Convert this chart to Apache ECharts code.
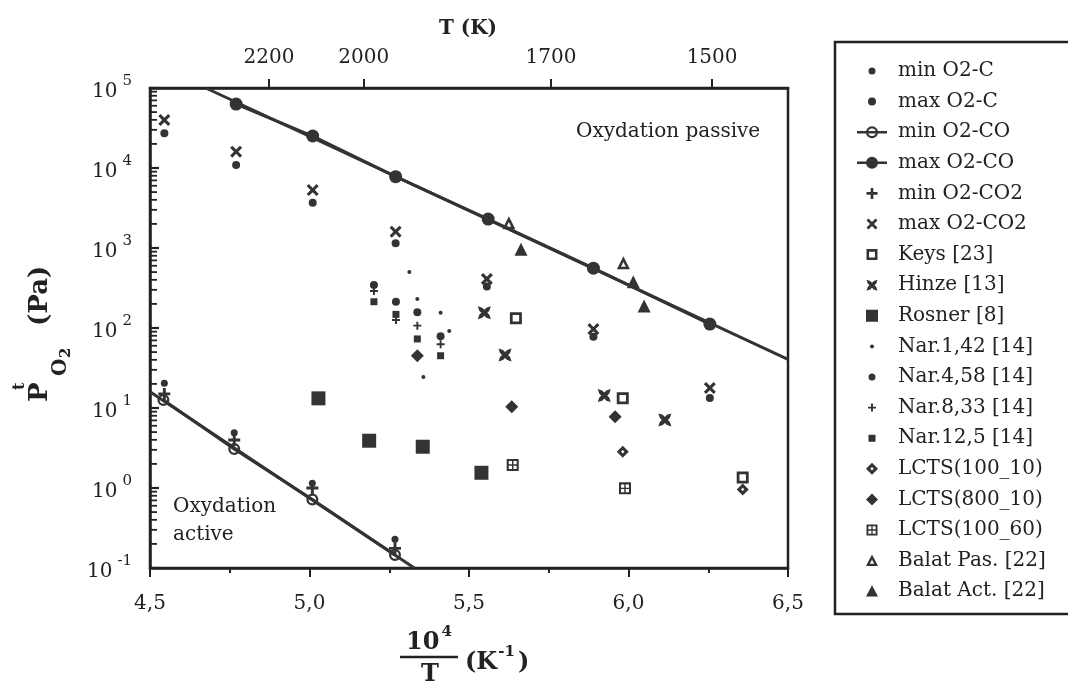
<!DOCTYPE html>
<html><head><meta charset="utf-8">
<script src="https://cdn.jsdelivr.net/npm/echarts@6/dist/echarts.min.js"></script>
<style>html,body{margin:0;padding:0;background:#fff}#c{width:1068px;height:686px}</style>
</head><body><div id="c"></div>
<script>
// ---------------- data ----------------
const minO2C_x = [4.545, 4.764, 5.009, 5.268];
const minO2C_y = [20.4, 4.9, 1.15, 0.229];
const maxO2C_x = [4.545, 4.77, 5.01, 5.27, 5.556, 5.89, 6.255];
const maxO2C_y = [27200, 10900, 3680, 1145, 330, 78, 13.3];
const minO2CO_x = [4.542, 4.764, 5.009, 5.268];
const minO2CO_y = [12.6, 3.07, 0.72, 0.145];
const maxO2CO_x = [4.77, 5.01, 5.27, 5.56, 5.89, 6.255];
const maxO2CO_y = [63000, 25100, 7800, 2300, 560, 112];
const minO2CO2_x = [4.545, 4.764, 5.009, 5.268];
const minO2CO2_y = [15, 3.98, 1.0, 0.176];
const maxO2CO2_x = [4.545, 4.77, 5.01, 5.27, 5.556, 5.89, 6.255];
const maxO2CO2_y = [39800, 16000, 5300, 1600, 410, 97, 17.8];
const keys_x = [5.647, 5.982, 6.358];
const keys_y = [132, 13.2, 1.35];
const hinze_x = [5.548, 5.613, 5.924, 6.114];
const hinze_y = [155, 46, 14.3, 7.1];
const rosner_x = [5.028, 5.187, 5.355, 5.539];
const rosner_y = [13.2, 3.9, 3.28, 1.55];
const nar142_x = [5.313, 5.338, 5.411, 5.438, 5.357];
const nar142_y = [501, 230, 155, 92, 24.4];
const nar458_x = [5.202, 5.271, 5.338, 5.411];
const nar458_y = [345, 213, 157, 79];
const nar833_x = [5.202, 5.271, 5.338, 5.411];
const nar833_y = [290, 126, 107, 62.5];
const nar125_x = [5.202, 5.271, 5.338, 5.411];
const nar125_y = [213, 148, 73, 45];
const lcts100_10_x = [5.982, 6.358];
const lcts100_10_y = [2.84, 0.96];
const lcts800_10_x = [5.338, 5.634, 5.958];
const lcts800_10_y = [45, 10.4, 7.8];
const lcts100_60_x = [5.637, 5.989];
const lcts100_60_y = [1.94, 0.99];
const balatPas_x = [5.625, 5.984];
const balatPas_y = [2070, 655];
const balatAct_x = [5.663, 6.015, 6.049];
const balatAct_y = [963, 379, 188];

const xTicksBottom = [4.5, 5.0, 5.5, 6.0, 6.5];
const topTickPos = [4.873, 5.170, 5.757, 6.262];
const topTickLabels = ['2200', '2000', '1700', '1500'];
const legendNames = ['min O2-C', 'max O2-C', 'min O2-CO', 'max O2-CO', 'min O2-CO2', 'max O2-CO2',
  'Keys [23]', 'Hinze [13]', 'Rosner [8]', 'Nar.1,42 [14]', 'Nar.4,58 [14]', 'Nar.8,33 [14]',
  'Nar.12,5 [14]', 'LCTS(100_10)', 'LCTS(800_10)', 'LCTS(100_60)', 'Balat Pas. [22]', 'Balat Act. [22]'];

// ---------------- styling helpers ----------------
const FONT = '"DejaVu Serif", serif';
const INK = '#222222';
const MARK = '#333333';
const zip = (xs, ys) => xs.map((x, i) => [x, ys[i]]);

function poly(pts, cx, cy, s) {
  return 'M' + pts.map(p => (cx + (p[0] - 5) * s / 10).toFixed(2) + ',' + (cy + (p[1] - 5) * s / 10).toFixed(2)).join(' L') + ' Z';
}
function circ(cx, cy, r, cw) {
  const sw = cw ? 1 : 0;
  return `M${(cx - r).toFixed(2)},${cy} A${r},${r} 0 1 ${sw} ${(cx + r).toFixed(2)},${cy} A${r},${r} 0 1 ${sw} ${(cx - r).toFixed(2)},${cy} Z`;
}
const SQ = [[0,0],[10,0],[10,10],[0,10]];
const SQ_HOLE = [[2.3,2.3],[2.3,7.7],[7.7,7.7],[7.7,2.3]];
const DIA = [[5,0],[10,5],[5,10],[0,5]];
const DIA_HOLE = [[5,3.6],[3.6,5],[5,6.4],[6.4,5]];
const TRI = [[5,0],[10,9.4],[0,9.4]];
const TRI_HOLE = [[5,4.2],[3.2,7.7],[6.8,7.7]];
const PLUS = [[3.8,0],[6.2,0],[6.2,3.8],[10,3.8],[10,6.2],[6.2,6.2],[6.2,10],[3.8,10],[3.8,6.2],[0,6.2],[0,3.8],[3.8,3.8]];
const XSH = [[0,1.8],[1.8,0],[5,3.2],[8.2,0],[10,1.8],[6.8,5],[10,8.2],[8.2,10],[5,6.8],[1.8,10],[0,8.2],[3.2,5]];
const BOW = [[0,0],[3.4,1.1],[5,2.7],[6.6,1.1],[10,0],[8.9,3.4],[7.3,5],[8.9,6.6],[10,10],[6.6,8.9],[5,7.3],[3.4,8.9],[0,10],[1.1,6.6],[2.7,5],[1.1,3.4]];
const GRID_HOLES = [[1.7,1.7],[5.6,1.7],[1.7,5.6],[5.6,5.6]].map(([a,b]) => [[a,b],[a,b+2.7],[a+2.7,b+2.7],[a+2.7,b]]);

const shapes = {
  dot: (cx, cy, s) => circ(cx, cy, s / 2, true),
  ring: (cx, cy, s) => circ(cx, cy, s / 2, true) + ' ' + circ(cx, cy, s * 0.31, false),
  square: (cx, cy, s) => poly(SQ, cx, cy, s),
  openSquare: (cx, cy, s) => poly(SQ, cx, cy, s) + ' ' + poly(SQ_HOLE, cx, cy, s),
  diamond: (cx, cy, s) => poly(DIA, cx, cy, s),
  holeDiamond: (cx, cy, s) => poly(DIA, cx, cy, s) + ' ' + poly(DIA_HOLE, cx, cy, s),
  gridSquare: (cx, cy, s) => poly(SQ, cx, cy, s) + ' ' + GRID_HOLES.map(h => poly(h, cx, cy, s)).join(' '),
  tri: (cx, cy, s) => poly(TRI, cx, cy, s),
  openTri: (cx, cy, s) => poly(TRI, cx, cy, s) + ' ' + poly(TRI_HOLE, cx, cy, s),
  plus: (cx, cy, s) => poly(PLUS, cx, cy, s),
  cross: (cx, cy, s) => poly(XSH, cx, cy, s),
  bow: (cx, cy, s) => poly(BOW, cx, cy, s)
};
const sym = k => 'path://' + shapes[k](5, 5, 10);
const PAD = 'M0,0 L0.02,0 L0,0.02 Z M30,20 L29.98,20 L30,19.98 Z';
const LINE_BAR = 'M0,8.8 L30,8.8 L30,11.2 L0,11.2 Z';
const licon = (k, s, withLine) => 'path://' + PAD + ' ' + (withLine ? LINE_BAR + ' ' : '') + shapes[k](15, 10, s);

// per-series mark definitions: [name, xs, ys, shape, plotSize, legendSize, isLine]
const defs = [
  [legendNames[0], minO2C_x, minO2C_y, 'dot', 7, 7, false],
  [legendNames[1], maxO2C_x, maxO2C_y, 'dot', 8, 8, false],
  [legendNames[2], minO2CO_x, minO2CO_y, 'ring', 12, 12, true],
  [legendNames[3], maxO2CO_x, maxO2CO_y, 'dot', 13, 12, true],
  [legendNames[4], minO2CO2_x, minO2CO2_y, 'plus', 12, 11, false],
  [legendNames[5], maxO2CO2_x, maxO2CO2_y, 'cross', 12, 11, false],
  [legendNames[6], keys_x, keys_y, 'openSquare', 12, 11, false],
  [legendNames[7], hinze_x, hinze_y, 'bow', 13, 11, false],
  [legendNames[8], rosner_x, rosner_y, 'square', 14, 12, false],
  [legendNames[9], nar142_x, nar142_y, 'dot', 4, 4, false],
  [legendNames[10], nar458_x, nar458_y, 'dot', 8, 7, false],
  [legendNames[11], nar833_x, nar833_y, 'plus', 8, 8, false],
  [legendNames[12], nar125_x, nar125_y, 'square', 7, 7, false],
  [legendNames[13], lcts100_10_x, lcts100_10_y, 'holeDiamond', 12, 12, false],
  [legendNames[14], lcts800_10_x, lcts800_10_y, 'diamond', 13, 12, false],
  [legendNames[15], lcts100_60_x, lcts100_60_y, 'gridSquare', 12, 11, false],
  [legendNames[16], balatPas_x, balatPas_y, 'openTri', 13, 12, false],
  [legendNames[17], balatAct_x, balatAct_y, 'tri', 13, 12, false]
];

// least squares fit in log space, clipped to the axis box
function fitLine(xs, ys) {
  const ly = ys.map(v => Math.log10(v));
  const n = xs.length;
  const mx = xs.reduce((a, b) => a + b, 0) / n, my = ly.reduce((a, b) => a + b, 0) / n;
  let sxy = 0, sxx = 0;
  xs.forEach((x, i) => { sxy += (x - mx) * (ly[i] - my); sxx += (x - mx) * (x - mx); });
  const m = sxy / sxx, b = my - m * mx;
  const xa = (5 - b) / m, xb = (-1 - b) / m;
  const x0 = Math.max(4.5, Math.min(xa, xb)), x1 = Math.min(6.5, Math.max(xa, xb));
  return [[x0, Math.pow(10, b + m * x0)], [x1, Math.pow(10, b + m * x1)]];
}

// minor tick positions of the log axis (2..9 x 10^k)
const yMinorTicks = [];
for (let e = -1; e < 5; e++) for (let k = 2; k < 10; k++) yMinorTicks.push(+(k * Math.pow(10, e)).toPrecision(3));

const series = [
  { type: 'line', name: 'fitMin', data: fitLine(minO2CO_x, minO2CO_y), symbol: 'none', z: 1,
    lineStyle: { color: MARK, width: 3 }, silent: true, clip: true },
  { type: 'line', name: 'fitMax', data: fitLine(maxO2CO_x, maxO2CO_y), symbol: 'none', z: 1,
    lineStyle: { color: MARK, width: 3 }, silent: true, clip: true }
];
defs.forEach(([name, xs, ys, shape, size, , isLine]) => {
  const s = {
    type: isLine ? 'line' : 'scatter', name, data: zip(xs, ys),
    symbol: sym(shape), symbolSize: size, z: isLine ? 2 : 3,
    itemStyle: { color: MARK, borderWidth: 0, opacity: 1 }
  };
  if (isLine) { s.lineStyle = { color: MARK, width: 3 }; s.showSymbol = true; }
  series.push(s);
});

const legendData = defs.map(([name, , , shape, , lsize, isLine]) => ({ name, icon: licon(shape, lsize, isLine) }));

const baseGraphics = [
  { type: 'rect', shape: { x: 835, y: 42, width: 300, height: 572 }, z: -1,
    style: { fill: 'none', stroke: INK, lineWidth: 2.5 } },
  { type: 'text', x: 468, y: 29, style: { text: 'T (K)', font: 'bold 20px ' + FONT, fill: INK, align: 'center', verticalAlign: 'middle' } },
  { type: 'text', x: 576, y: 132, style: { text: 'Oxydation passive', font: '20px ' + FONT, fill: INK, verticalAlign: 'middle' } },
  { type: 'text', x: 173, y: 507, style: { text: 'Oxydation', font: '20px ' + FONT, fill: INK, verticalAlign: 'middle' } },
  { type: 'text', x: 173, y: 535, style: { text: 'active', font: '20px ' + FONT, fill: INK, verticalAlign: 'middle' } },
  { type: 'group', x: 40, y: 402, rotation: Math.PI / 2, children: [
    { type: 'text', x: 0, y: 0, style: { text: 'P', font: 'bold 26px ' + FONT, fill: INK, align: 'left', verticalAlign: 'middle' } },
    { type: 'text', x: 12, y: -20, style: { text: 't', font: 'bold 16px ' + FONT, fill: INK, align: 'left', verticalAlign: 'middle' } },
    { type: 'text', x: 26, y: 21, style: { text: 'O', font: 'bold 20px ' + FONT, fill: INK, align: 'left', verticalAlign: 'middle' } },
    { type: 'text', x: 44, y: 26, style: { text: '2', font: 'bold 15px ' + FONT, fill: INK, align: 'left', verticalAlign: 'middle' } },
    { type: 'text', x: 76, y: 0, style: { text: '(Pa)', font: 'bold 26px ' + FONT, fill: INK, align: 'left', verticalAlign: 'middle' } }
  ] },
  { type: 'text', x: 429, y: 640, style: { text: '{b|10}{s|4}', align: 'center', verticalAlign: 'middle',
    rich: { b: { font: 'bold 24px ' + FONT, lineHeight: 30, verticalAlign: 'bottom', fill: INK },
            s: { font: 'bold 15px ' + FONT, lineHeight: 12, verticalAlign: 'top', fill: INK, padding: [0, 0, 0, 2] } } } },
  { type: 'line', shape: { x1: 400, y1: 657, x2: 458, y2: 657 }, style: { stroke: INK, lineWidth: 2.5 } },
  { type: 'text', x: 430, y: 675, style: { text: 'T', font: 'bold 24px ' + FONT, fill: INK, align: 'center', verticalAlign: 'middle' } },
  { type: 'text', x: 465, y: 660, style: { text: '{b|(K}{s|-1}{b|)}', align: 'left', verticalAlign: 'middle',
    rich: { b: { font: 'bold 24px ' + FONT, lineHeight: 30, verticalAlign: 'bottom', fill: INK },
            s: { font: 'bold 15px ' + FONT, lineHeight: 12, verticalAlign: 'top', fill: INK, padding: [0, 3, 0, 1] } } } }
];

const chart = echarts.init(document.getElementById('c'), null, { renderer: 'canvas' });
chart.setOption({
  animation: false,
  backgroundColor: '#fff',
  textStyle: { fontFamily: FONT, color: INK },
  grid: { left: 150, right: 280, top: 88, bottom: 118, show: true, borderColor: INK, borderWidth: 2.5, containLabel: false },
  legend: {
    orient: 'vertical', left: 852, top: 56, itemWidth: 30, itemHeight: 20, itemGap: 10.6,
    selectedMode: false, data: legendData, symbolKeepAspect: true,
    itemStyle: { borderWidth: 0, opacity: 1 },
    textStyle: { fontFamily: FONT, fontSize: 20, color: INK, padding: [0, 0, 0, 6] }
  },
  xAxis: [
    { type: 'value', position: 'bottom', min: 4.5, max: 6.5, interval: 0.5,
      axisLine: { show: true, onZero: false, lineStyle: { color: INK, width: 2.5 } },
      axisTick: { show: true, length: 9, lineStyle: { color: INK, width: 2 } },
      minorTick: { show: true, splitNumber: 2, length: 5, lineStyle: { color: INK, width: 2 } },
      splitLine: { show: false }, minorSplitLine: { show: false },
      axisLabel: { fontFamily: FONT, fontSize: 20, color: INK, margin: 26,
        formatter: v => xTicksBottom.includes(+v.toFixed(1)) ? v.toFixed(1).replace('.', ',') : '' } },
    { type: 'value', position: 'top', min: 4.5, max: 6.5,
      axisLine: { show: true, onZero: false, lineStyle: { color: INK, width: 2.5 } },
      axisTick: { show: true, length: 9, customValues: topTickPos, lineStyle: { color: INK, width: 2 } },
      splitLine: { show: false },
      axisLabel: { fontFamily: FONT, fontSize: 20, color: INK, margin: 20, customValues: topTickPos,
        formatter: v => {
          let best = 0;
          topTickPos.forEach((p, i) => { if (Math.abs(p - v) < Math.abs(topTickPos[best] - v)) best = i; });
          return topTickLabels[best];
        } } }
  ],
  yAxis: [
    { type: 'log', logBase: 10, min: 0.1, max: 100000, splitNumber: 6, position: 'left',
      axisLine: { show: true, onZero: false, lineStyle: { color: INK, width: 2.5 } },
      axisTick: { show: true, inside: true, length: 9, lineStyle: { color: INK, width: 2.2 } },
      splitLine: { show: false },
      axisLabel: { margin: 18, color: INK,
        formatter: v => '{b|10}{s|' + Math.round(Math.log10(v)) + '}',
        rich: {
          b: { fontFamily: FONT, fontSize: 20, lineHeight: 28, verticalAlign: 'bottom', color: INK },
          s: { fontFamily: FONT, fontSize: 15, lineHeight: 10, verticalAlign: 'top', color: INK, padding: [0, 0, 0, 5] }
        } } }
  ],
  series,
  graphic: baseGraphics
});

// minor ticks of the logarithmic axis, placed through the axis' own scale
const minorTickGraphics = [];
yMinorTicks.forEach(v => {
  const p = chart.convertToPixel({ gridIndex: 0 }, [4.5, v]);
  if (p && isFinite(p[0]) && isFinite(p[1])) {
    minorTickGraphics.push({ type: 'line', z: 50,
      shape: { x1: p[0], y1: p[1], x2: p[0] + 7, y2: p[1] }, style: { stroke: INK, lineWidth: 1.8 } });
  }
});
chart.setOption({ graphic: baseGraphics.concat(minorTickGraphics) });
</script>
</body></html>
